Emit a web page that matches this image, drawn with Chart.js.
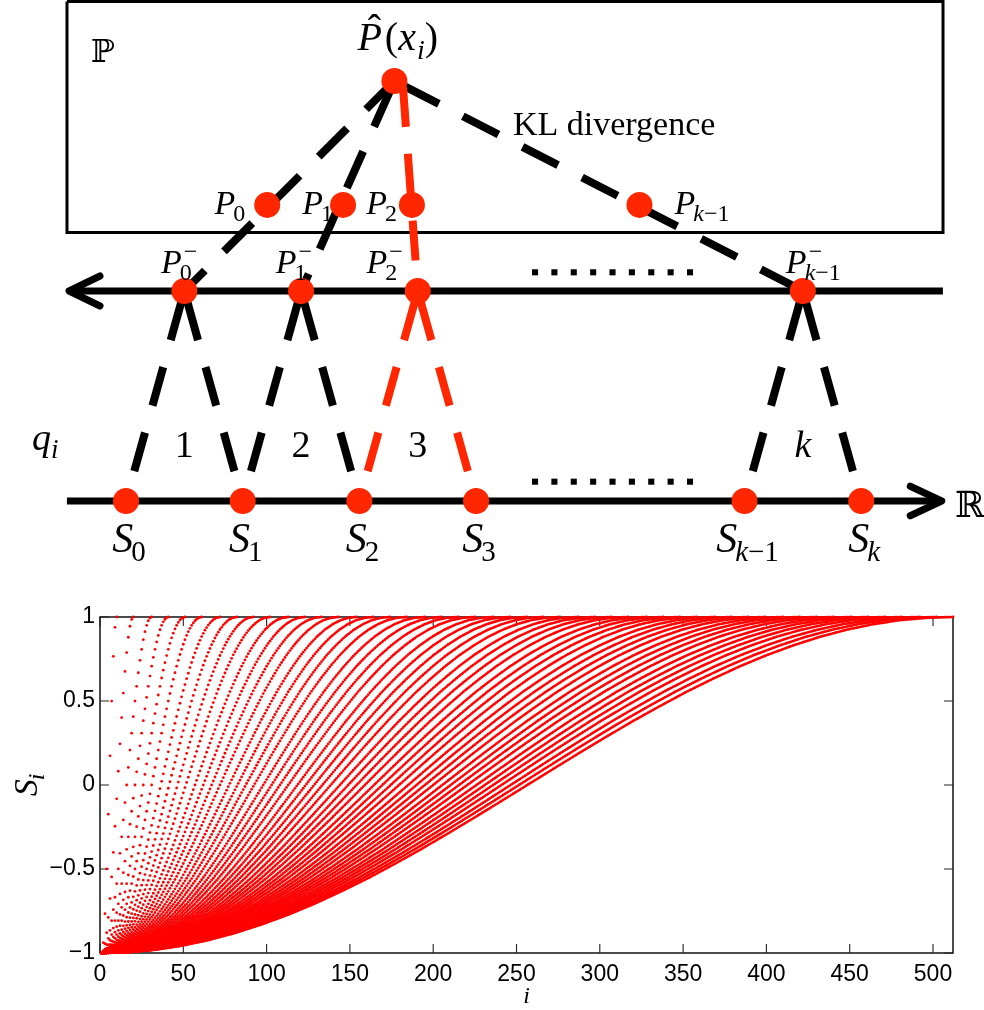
<!DOCTYPE html>
<html>
<head>
<meta charset="utf-8">
<title>Bins, KL divergence and S_i curves</title>
<script src="https://cdn.jsdelivr.net/npm/chart.js@4.4.1/dist/chart.umd.min.js"></script>
<style>
  html, body { margin:0; padding:0; background:#ffffff; }
  #page { position:relative; width:984px; height:1010px; overflow:hidden; background:#fff; }
  canvas { position:absolute; left:0; display:block; }
  #diagram { top:0; }
  #plot { top:580px; }
</style>
</head>
<body>
<div id="page">
  <canvas id="diagram" width="984" height="580"></canvas>
  <canvas id="plot" width="984" height="430"></canvas>
</div>
<script>
// ================= DATA : top diagram (diagram units: S spacing = 1) =================
const sNodeX      = [0, 1, 2, 3, 5.3, 6.3];
const sNodeSubs   = ['0', '1', '2', '3', 'k-1', 'k'];
const pMinusX     = [0.5, 1.5, 2.5, 5.8];
const pMinusSpans = [[0, 1], [1, 2], [2, 3], [4, 5]];
const pMinusSubs  = ['0', '1', '2', 'k-1'];
const pTopX       = [1.21, 1.86, 2.45, 4.40];
const pTopSubs    = ['0', '1', '2', 'k-1'];
const pHatX       = 2.30;
const levelS      = 0;
const levelPminus = 1;
const levelP      = 1.41;
const levelPhat   = 2;
const binLabels   = ['1', '2', '3', 'k'];
const highlightBin = 2;

// ================= DATA : bottom plot =================
const xTickValues = [0, 50, 100, 150, 200, 250, 300, 350, 400, 450, 500];
const yTickValues = [-1, -0.5, 0, 0.5, 1];
// number of points of each plotted S-curve (curve j ends at i = its length)
const curveLengths = [10, 20, 31, 41, 51, 61, 72, 82, 92, 102, 113, 123, 133, 143, 154, 164, 174, 184,
  195, 205, 215, 225, 236, 246, 256, 266, 276, 287, 297, 307, 317, 328, 338, 348, 358, 369, 379, 389,
  399, 410, 420, 430, 440, 451, 461, 471, 481, 492, 502, 512];
// normalised curve shape (start -> end, 33 samples)
const curveProfile = [-1.000, -0.995, -0.981, -0.957, -0.924, -0.882, -0.831, -0.773, -0.707, -0.634,
  -0.556, -0.471, -0.383, -0.290, -0.195, -0.098, 0.000, 0.098, 0.195, 0.290, 0.383, 0.471, 0.556,
  0.634, 0.707, 0.773, 0.831, 0.882, 0.924, 0.957, 0.981, 0.995, 1.000];

// ================= STYLE =================
const RED = 'rgb(255,38,0)';
const DOT_RED = '#ff0000';
const SERIF = '"Liberation Serif","Times New Roman",serif';
const SANS = '"Liberation Sans", Arial, Helvetica, sans-serif';
const DSTRUCK = '"DejaVu Serif","DejaVu Sans",serif';

function fontStr(size, italic, fam) { return (italic ? 'italic ' : '') + size + 'px ' + (fam || SERIF); }
function runsW(ctx, runs, size) { let w = 0; for (const [t, it] of runs) { ctx.font = fontStr(size, it); w += ctx.measureText(t).width; } return w; }
function runsDraw(ctx, runs, x, y, size) { for (const [t, it] of runs) { ctx.font = fontStr(size, it); ctx.fillText(t, x, y); x += ctx.measureText(t).width; } return x; }
function mathWidth(ctx, items, size) {
  const ss = Math.round(size * 0.7); let w = 0;
  for (const it of items) {
    if (it.n) w += runsW(ctx, it.n, size) + (it.after || 0);
    else w += Math.max(it.sub ? runsW(ctx, it.sub, ss) : 0, it.sup ? runsW(ctx, it.sup, ss) + (it.supShift || 0) : 0) + (it.kern || 0);
  }
  return w;
}
function drawMath(ctx, items, x, y, size, align) {
  const w = mathWidth(ctx, items, size), ss = Math.round(size * 0.7);
  let cx = align === 'left' ? x : align === 'right' ? x - w : x - w / 2;
  ctx.save(); ctx.fillStyle = '#000'; ctx.textAlign = 'left'; ctx.textBaseline = 'alphabetic';
  for (const it of items) {
    if (it.n) {
      const x0 = cx; cx = runsDraw(ctx, it.n, cx, y, size) + (it.after || 0);
      if (it.hat) { ctx.font = fontStr(size, false); const hw = ctx.measureText('ˆ').width; ctx.fillText('ˆ', (x0 + cx) / 2 - hw / 2 + size * 0.08, y - size * 0.2); }
    } else {
      const k = it.kern || 0;
      const a = it.sub ? runsW(ctx, it.sub, ss) : 0, b = it.sup ? runsW(ctx, it.sup, ss) + (it.supShift || 0) : 0;
      if (it.sub) runsDraw(ctx, it.sub, cx + k, y + size * 0.22, ss);
      if (it.sup) runsDraw(ctx, it.sup, cx + k + (it.supShift || 0), y - size * 0.42, ss);
      cx += Math.max(a, b) + k;
    }
  }
  ctx.restore();
}
function subRuns(s) {
  if (s.startsWith('k')) return s.length > 1 ? [['k', true], ['−1', false]] : [['k', true]];
  return [[s, false]];
}

// ================= TOP DIAGRAM =================
function seg(points, color, width, dash, dashOff, cap) {
  return { data: points, showLine: true, borderColor: color, backgroundColor: color, borderWidth: width,
    borderDash: dash || [], borderDashOffset: dashOff || 0, borderCapStyle: cap || 'butt',
    borderJoinStyle: cap === 'round' ? 'round' : 'miter', pointRadius: 0, pointHoverRadius: 0,
    clip: false, tension: 0, fill: false };
}

const nodePts = [
  ...sNodeX.map(x => ({ x, y: levelS })),
  ...pMinusX.map(x => ({ x, y: levelPminus })),
  ...pTopX.map(x => ({ x, y: levelP })),
  { x: pHatX, y: levelPhat }
];

// ellipsis dots (layout)
const ellStart = 3.505, ellEnd = 4.833, ellCount = 9;
const ellipsisPts = [];
for (let r = 0; r < ellCount; r++) {
  const ex = ellStart + (ellEnd - ellStart) * r / (ellCount - 1);
  ellipsisPts.push({ x: ex, y: levelPminus + 0.089 });
  ellipsisPts.push({ x: ex, y: levelS + 0.092 });
}

const topDatasets = [];
topDatasets.push({ data: nodePts, showLine: false, pointRadius: 13, pointHoverRadius: 13, pointBorderWidth: 0,
  backgroundColor: RED, borderColor: RED, clip: false });
topDatasets.push({ data: ellipsisPts, showLine: false, pointStyle: 'rect', pointRadius: 4.3, pointHoverRadius: 4.3,
  pointBorderWidth: 0, backgroundColor: '#000', borderColor: '#000', clip: false });

// upper dashed lines: P-hat -> P_j^- (through P_j)
const upperDashOffsets = [0, -10, -6, -10];
const redTopX = pHatX + 0.07;
pMinusX.forEach((mx, j) => {
  const isRed = j === highlightBin;
  const start = isRed ? { x: redTopX, y: levelPhat } : { x: pHatX, y: levelPhat };
  topDatasets.push(seg([start, { x: mx, y: levelPminus }], isRed ? RED : '#000', 8, [40, 27], upperDashOffsets[j]));
});
// lower dashed legs: P_j^- -> S_left, S_right
pMinusX.forEach((mx, j) => {
  const col = j === highlightBin ? RED : '#000';
  pMinusSpans[j].forEach(si => {
    topDatasets.push(seg([{ x: mx, y: levelPminus }, { x: sNodeX[si], y: levelS }], col, 8, [40, 28], -11));
  });
});
// axes and arrows (layout geometry)
topDatasets.push(seg([{ x: -0.488, y: levelPminus }, { x: 7.0, y: levelPminus }], '#000', 7));
topDatasets.push(seg([{ x: -0.223, y: levelPminus + 0.0714 }, { x: -0.488, y: levelPminus }, { x: -0.223, y: levelPminus - 0.0714 }], '#000', 7, null, 0, 'round'));
topDatasets.push(seg([{ x: -0.506, y: levelS }, { x: 6.99, y: levelS }], '#000', 7));
topDatasets.push(seg([{ x: 6.72, y: levelS + 0.0702 }, { x: 6.99, y: levelS }, { x: 6.72, y: levelS - 0.0702 }], '#000', 7, null, 0, 'round'));
// frame of the space P
topDatasets.push(seg([{ x: -0.5056, y: 2.3786 }, { x: 7.001, y: 2.3786 }, { x: 7.001, y: 1.2786 },
  { x: -0.5056, y: 1.2786 }, { x: -0.5056, y: 2.3786 }], '#000', 3));

const diagramLabels = {
  id: 'diagramLabels',
  afterDatasetsDraw(chart) {
    const ctx = chart.ctx;
    const X = v => chart.scales.x.getPixelForValue(v), Y = v => chart.scales.y.getPixelForValue(v);
    // S labels
    sNodeX.forEach((sx, i) => drawMath(ctx, [{ n: [['S', true]] }, { sub: subRuns(sNodeSubs[i]), kern: -2 }],
      X(sx) + 3, Y(levelS) + 51, 42, 'center'));
    // P^- labels
    const pmDx = [13, 11, -15, -17], pmAl = ['right', 'right', 'right', 'left'];
    pMinusX.forEach((x, i) => drawMath(ctx, [{ n: [['P', true]] }, { sub: subRuns(pMinusSubs[i]), sup: [['−', false]], kern: -2, supShift: 4 }],
      X(x) + pmDx[i], Y(levelPminus) - 18, 34, pmAl[i]));
    // P labels
    const pDx = [-22, -10, -15, 35], pAl = ['right', 'right', 'right', 'left'];
    pTopX.forEach((x, i) => drawMath(ctx, [{ n: [['P', true]] }, { sub: subRuns(pTopSubs[i]), kern: -2 }],
      X(x) + pDx[i], Y(levelP) + 9, 34, pAl[i]));
    // P-hat(x_i)
    drawMath(ctx, [{ n: [['P', true]], hat: true, after: 3 }, { n: [['(', false], ['x', true]] }, { sub: [['i', true]], kern: 1 }, { n: [[')', false]] }],
      X(pHatX) - 37, Y(levelPhat) - 31, 40, 'left');
    // bin numbers
    binLabels.forEach((b, i) => drawMath(ctx, [{ n: [[b, b === 'k']] }], X(pMinusX[i]), Y(0.2095), 38, 'center'));
    // q_i
    drawMath(ctx, [{ n: [['q', true]] }, { sub: [['i', true]] }], X(-0.8055), Y(0.243), 38, 'left');
    // KL divergence
    ctx.save(); ctx.fillStyle = '#000'; ctx.textAlign = 'left'; ctx.textBaseline = 'alphabetic';
    ctx.font = '34px ' + SERIF; ctx.fillText('KL divergence', X(3.316), Y(1.743));
    // blackboard letters
    ctx.font = '32px ' + DSTRUCK; ctx.fillText('ℙ', X(-0.30), Y(2.09));
    ctx.font = '36px ' + DSTRUCK; ctx.fillText('ℝ', X(7.104), Y(-0.076));
    ctx.restore();
  }
};

new Chart(document.getElementById('diagram'), {
  type: 'scatter',
  data: { datasets: topDatasets },
  options: {
    responsive: false, animation: false, events: [],
    layout: { padding: 0, autoPadding: false },
    plugins: { legend: { display: false }, tooltip: { enabled: false } },
    scales: {
      x: { type: 'linear', display: false, min: -1.0797, max: 7.3522 },
      y: { type: 'linear', display: false, min: -0.3762, max: 2.3857 }
    }
  },
  plugins: [diagramLabels]
});

// ================= BOTTOM PLOT =================
const curvePoints = [];
curveLengths.forEach(n => {
  const last = curveProfile.length - 1;
  for (let i = 1; i <= n; i++) {
    const t = (i - 1) / (n - 1) * last;
    const k = Math.min(Math.floor(t), last - 1);
    const f = t - k;
    curvePoints.push({ x: i, y: curveProfile[k] * (1 - f) + curveProfile[k + 1] * f });
  }
});

const plotFrame = {
  id: 'plotFrame',
  beforeDatasetsDraw(chart) {
    const { ctx, chartArea: a } = chart;
    const xs = chart.scales.x, ys = chart.scales.y;
    ctx.save();
    ctx.strokeStyle = '#000'; ctx.lineWidth = 1.4;
    ctx.strokeRect(a.left, a.top, a.right - a.left, a.bottom - a.top);
    ctx.lineWidth = 1.1; ctx.strokeStyle = '#222';
    ctx.beginPath();
    xTickValues.forEach(v => { const p = xs.getPixelForValue(v);
      ctx.moveTo(p, a.bottom); ctx.lineTo(p, a.bottom - 9); ctx.moveTo(p, a.top); ctx.lineTo(p, a.top + 9); });
    yTickValues.forEach(v => { const p = ys.getPixelForValue(v);
      ctx.moveTo(a.left, p); ctx.lineTo(a.left + 9, p); ctx.moveTo(a.right, p); ctx.lineTo(a.right - 9, p); });
    ctx.stroke();
    ctx.restore();
  },
  afterDraw(chart) {
    const { ctx, chartArea: a } = chart;
    ctx.save();
    ctx.fillStyle = '#000'; ctx.textAlign = 'center'; ctx.textBaseline = 'alphabetic';
    ctx.font = fontStr(24, true); ctx.fillText('i', (a.left + a.right) / 2, 423);
    ctx.translate(37, (a.top + a.bottom) / 2);
    ctx.rotate(-Math.PI / 2);
    drawMath(ctx, [{ n: [['S', true]] }, { sub: [['i', true]], kern: -1 }], 0, 0, 34, 'center');
    ctx.restore();
  }
};

new Chart(document.getElementById('plot'), {
  type: 'scatter',
  data: { datasets: [{ data: curvePoints, showLine: false, pointRadius: 1.4, pointHoverRadius: 1.4,
    pointBorderWidth: 0, backgroundColor: DOT_RED, borderColor: DOT_RED, clip: false }] },
  options: {
    responsive: false, animation: false, events: [], parsing: false, normalized: true,
    layout: { padding: { top: 37, right: 31, left: 0, bottom: 0 }, autoPadding: false },
    plugins: { legend: { display: false }, tooltip: { enabled: false } },
    scales: {
      x: { type: 'linear', min: 0, max: 512,
        grid: { display: false, drawTicks: false }, border: { display: false },
        afterBuildTicks: s => { s.ticks = xTickValues.map(v => ({ value: v })); },
        afterFit: s => { s.height = 57; },
        ticks: { color: '#000', font: { family: SANS, size: 23 }, padding: 8, maxRotation: 0, autoSkip: false } },
      y: { type: 'linear', min: -1, max: 1,
        grid: { display: false, drawTicks: false }, border: { display: false },
        afterBuildTicks: s => { s.ticks = yTickValues.map(v => ({ value: v })); },
        afterFit: s => { s.width = 100; },
        ticks: { color: '#000', font: { family: SANS, size: 23 }, padding: 5, autoSkip: false,
          callback: v => (v < 0 ? '−' + Math.abs(v) : String(v)) } }
    }
  },
  plugins: [plotFrame]
});
</script>
</body>
</html>
